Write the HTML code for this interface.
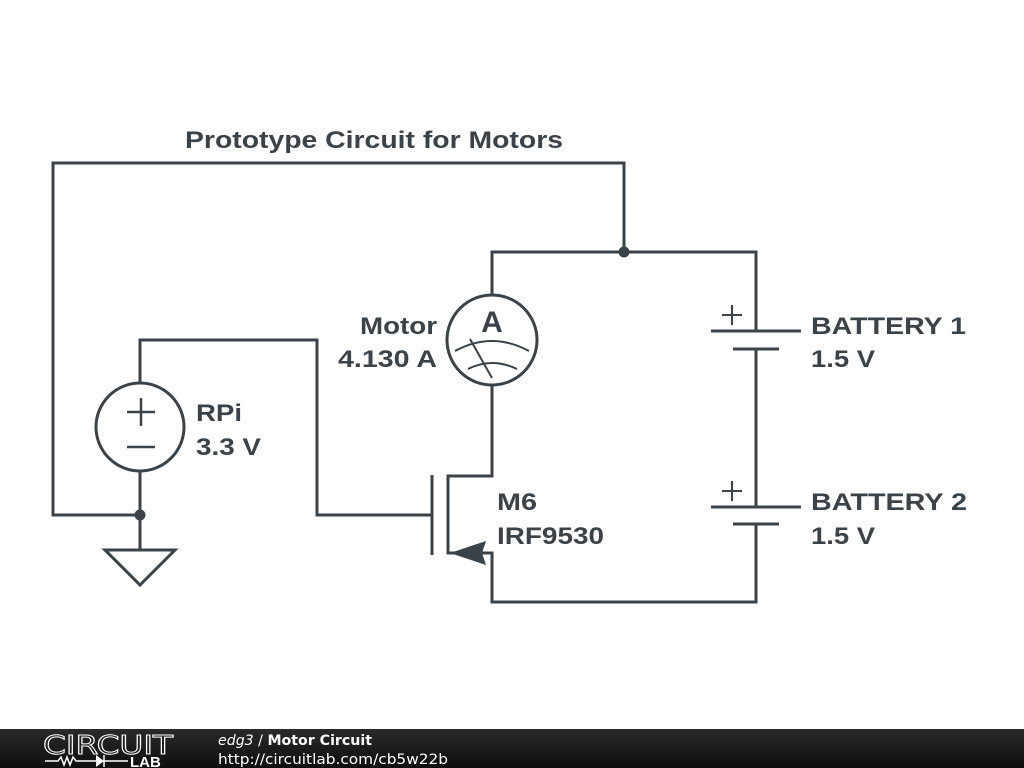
<!DOCTYPE html>
<html><head><meta charset="utf-8"><style>
html,body{margin:0;padding:0;background:#fff;width:1024px;height:768px;overflow:hidden}
svg{display:block}
</style></head><body>
<svg width="1024" height="768" viewBox="0 0 1024 768" xmlns="http://www.w3.org/2000/svg">
<defs><linearGradient id="g" x1="0" y1="0" x2="0" y2="1"><stop offset="0" stop-color="#2a2a2a"/><stop offset="1" stop-color="#0e0e0e"/></linearGradient></defs>
<g stroke="#3b4248" stroke-width="3" fill="none" stroke-linecap="butt">
<polyline points="140,515 53,515 53,163 624,163 624,252"/>
<polyline points="492,295 492,252 756,252 756,331"/>
<line x1="711" y1="331" x2="801" y2="331"/>
<line x1="733" y1="349" x2="779" y2="349"/>
<line x1="756" y1="349" x2="756" y2="507"/>
<line x1="711" y1="507" x2="801" y2="507"/>
<line x1="733" y1="524" x2="779" y2="524"/>
<polyline points="756,524 756,602 492,602 492,553 470,553"/>
<line x1="722" y1="315" x2="742" y2="315" stroke-width="2"/>
<line x1="732" y1="305" x2="732" y2="325" stroke-width="2"/>
<line x1="722" y1="491" x2="742" y2="491" stroke-width="2"/>
<line x1="732" y1="481" x2="732" y2="501" stroke-width="2"/>
<circle cx="492" cy="340" r="45"/>
<path d="M455,351 Q492,331 529,351" stroke-width="2"/>
<path d="M468,369 Q492,357 517,369" stroke-width="2"/>
<line x1="470" y1="339" x2="492" y2="378" stroke-width="2"/>
<polyline points="492,385 492,476 448,476 448,553 455,553"/>
<line x1="432" y1="475" x2="432" y2="555"/>
<polyline points="140,383 140,340 317,340 317,515 432,515"/>
<circle cx="140" cy="427" r="44"/>
<line x1="127" y1="412" x2="155" y2="412" stroke-width="2.5"/>
<line x1="141" y1="398" x2="141" y2="426" stroke-width="2.5"/>
<line x1="127" y1="447" x2="155" y2="447" stroke-width="2.5"/>
<line x1="140" y1="471" x2="140" y2="550"/>
<polygon points="105,550 175,550 140,585"/>
</g>
<polygon points="450,553 486,541 482,553 486,565" fill="#3b4248"/>
<circle cx="624" cy="252" r="5.5" fill="#3b4248"/>
<circle cx="140" cy="515" r="5.5" fill="#3b4248"/>
<g font-family="Liberation Sans, sans-serif" font-weight="bold" fill="#3b4248" font-size="24" lengthAdjust="spacingAndGlyphs">
<text x="185" y="148" textLength="378" lengthAdjust="spacingAndGlyphs">Prototype Circuit for Motors</text>
<text x="360" y="334" textLength="77" lengthAdjust="spacingAndGlyphs">Motor</text>
<text x="338" y="367" textLength="99" lengthAdjust="spacingAndGlyphs">4.130 A</text>
<text x="196" y="421" textLength="46" lengthAdjust="spacingAndGlyphs">RPi</text>
<text x="196" y="455" textLength="65" lengthAdjust="spacingAndGlyphs">3.3 V</text>
<text x="497" y="510" textLength="40" lengthAdjust="spacingAndGlyphs">M6</text>
<text x="497" y="544" textLength="107" lengthAdjust="spacingAndGlyphs">IRF9530</text>
<text x="811" y="334" textLength="155" lengthAdjust="spacingAndGlyphs">BATTERY 1</text>
<text x="811" y="367" textLength="64" lengthAdjust="spacingAndGlyphs">1.5 V</text>
<text x="811" y="510" textLength="156" lengthAdjust="spacingAndGlyphs">BATTERY 2</text>
<text x="811" y="544" textLength="64" lengthAdjust="spacingAndGlyphs">1.5 V</text>
<text x="492" y="332" text-anchor="middle" font-size="30">A</text>
</g>
<rect x="0" y="729" width="1024" height="39" fill="url(#g)"/>
<text x="43" y="754" font-family="DejaVu Sans, sans-serif" font-size="26" textLength="130" lengthAdjust="spacingAndGlyphs" stroke="#fff" stroke-width="1" fill="none">CIRCUIT</text>
<g stroke="#fff" stroke-width="1.5" fill="none">
<polyline points="45,761 58,761 61,757 64,765 67,757 70,765 73,757 76,761 96,761"/>
<line x1="104" y1="755" x2="104" y2="767"/>
<line x1="104" y1="761" x2="128" y2="761"/>
</g>
<polygon points="96,755 104,761 96,767" fill="#fff"/>
<text x="130" y="767" font-family="Liberation Sans, sans-serif" font-size="15" font-weight="bold" fill="#fff">LAB</text>
<text x="218" y="745" font-family="DejaVu Sans, sans-serif" font-size="14" fill="#fff" textLength="154" lengthAdjust="spacingAndGlyphs"><tspan font-style="italic">edg3</tspan> / <tspan font-weight="bold">Motor Circuit</tspan></text>
<text x="218" y="764" font-family="DejaVu Sans, sans-serif" font-size="14" fill="#fff" textLength="230" lengthAdjust="spacingAndGlyphs">http://circuitlab.com/cb5w22b</text>
</svg>
</body></html>
